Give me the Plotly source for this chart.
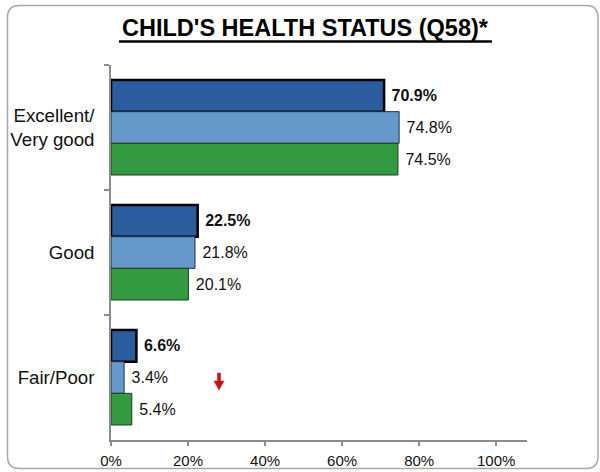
import plotly.graph_objects as go

# Survey results: share of children by reported health status
categories = ["Excellent/<br>Very good", "Good", "Fair/Poor"]
series_names = ["Current year", "Prior year", "Comparison"]
current_vals = [70.9, 22.5, 6.6]
prior_vals = [74.8, 21.8, 3.4]
comparison_vals = [74.5, 20.1, 5.4]
x_tick_vals = [0, 20, 40, 60, 80, 100]
x_tick_text = ["0%", "20%", "40%", "60%", "80%", "100%"]

W, H = 600, 472
ML, MR, MT, MB = 111, 73, 65, 32
PW, PH = W - ML - MR, H - MT - MB

FONT = "Arial, Liberation Sans, sans-serif"


def px_x(px):
    return (px - ML) / PW


def px_y(py):
    return (H - MB - py) / PH


def rounded_rect(x0, y0, x1, y1, r):
    # SVG path in paper units for a rounded rectangle given in pixels
    pts = [
        f"M {px_x(x0 + r)},{px_y(y0)}",
        f"L {px_x(x1 - r)},{px_y(y0)}",
        f"Q {px_x(x1)},{px_y(y0)} {px_x(x1)},{px_y(y0 + r)}",
        f"L {px_x(x1)},{px_y(y1 - r)}",
        f"Q {px_x(x1)},{px_y(y1)} {px_x(x1 - r)},{px_y(y1)}",
        f"L {px_x(x0 + r)},{px_y(y1)}",
        f"Q {px_x(x0)},{px_y(y1)} {px_x(x0)},{px_y(y1 - r)}",
        f"L {px_x(x0)},{px_y(y0 + r)}",
        f"Q {px_x(x0)},{px_y(y0)} {px_x(x0 + r)},{px_y(y0)}",
        "Z",
    ]
    return " ".join(pts)


def poly(points):
    # closed polygon path in paper units from pixel points
    segs = [f"{'M' if i == 0 else 'L'} {px_x(x)},{px_y(y)}" for i, (x, y) in enumerate(points)]
    return " ".join(segs) + " Z"


fig = go.Figure()

styles = [
    dict(color="#2B5C9E", line=dict(color="#000000", width=2.5), bold=True),
    dict(color="#6699C9", line=dict(color="#1F2F4F", width=1), bold=False),
    dict(color="#339A42", line=dict(color="#1F3F22", width=1), bold=False),
]

for name, vals, st in zip(series_names, [current_vals, prior_vals, comparison_vals], styles):
    labels = [
        "\u00a0" + (f"<b>{v:.1f}%</b>" if st["bold"] else f"{v:.1f}%")
        for v in vals
    ]
    fig.add_trace(go.Bar(
        y=categories,
        x=vals,
        name=name,
        orientation="h",
        marker=dict(color=st["color"], line=st["line"]),
        text=labels,
        textposition="outside",
        constraintext="none",
        textfont=dict(family=FONT, size=16, color="#111111"),
        cliponaxis=False,
        showlegend=False,
    ))

fig.update_layout(
    width=W,
    height=H,
    margin=dict(l=ML, r=MR, t=MT, b=MB, pad=0, autoexpand=False),
    paper_bgcolor="white",
    plot_bgcolor="white",
    barmode="group",
    bargap=0.24,
    bargroupgap=0,
    font=dict(family=FONT, color="#111111"),
    title=dict(
        text="<b>CHILD'S HEALTH STATUS (Q58)*</b>",
        font=dict(family=FONT, size=23.5, color="#000000"),
        x=305 / W,
        xanchor="center",
        y=1 - 28 / H,
        yanchor="middle",
        xref="container",
        yref="container",
    ),
    xaxis=dict(
        range=[0, 108],
        tickvals=x_tick_vals,
        ticktext=x_tick_text,
        automargin=False,
        showgrid=False,
        zeroline=False,
        showline=True,
        linecolor="#8C8C8C",
        linewidth=2,
        ticks="outside",
        ticklen=4,
        tickwidth=1.5,
        tickcolor="#8C8C8C",
        tickfont=dict(family=FONT, size=15, color="#111111"),
        ticklabelstandoff=2,
    ),
    yaxis=dict(
        autorange="reversed",
        automargin=False,
        showgrid=False,
        zeroline=False,
        showline=True,
        linecolor="#8C8C8C",
        linewidth=1.5,
        ticks="outside",
        tickson="boundaries",
        ticklen=5,
        tickwidth=1.5,
        tickcolor="#8C8C8C",
        tickfont=dict(family=FONT, size=18.7, color="#111111"),
        ticklabelstandoff=11,
    ),
)

# title underline
fig.add_shape(type="line", xref="paper", yref="paper",
              x0=px_x(119), x1=px_x(492), y0=px_y(41.5), y1=px_y(41.5),
              line=dict(color="#000000", width=2.5))

# rounded frame around the chart
fig.add_shape(type="path", xref="paper", yref="paper",
              path=rounded_rect(7.5, 5.5, 598, 468.5, 12),
              line=dict(color="#A6A6A6", width=1.5), layer="below")

# red down arrow flagging a significant decrease for Fair/Poor
fig.add_shape(type="path", xref="paper", yref="paper",
              path=poly([(217.5, 373), (220.5, 373), (220.5, 381), (224, 381),
                         (219, 390), (214, 381), (217.5, 381)]),
              fillcolor="#CC1111", line=dict(color="#CC1111", width=0.5))

fig.write_html("out.html")
